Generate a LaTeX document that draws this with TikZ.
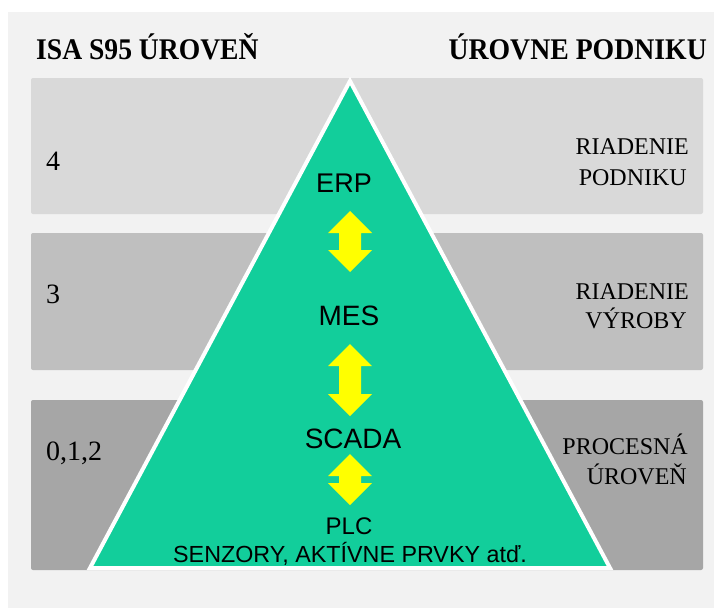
\documentclass[tikz,border=0pt]{standalone}
\usepackage{fontspec}
\setmainfont{Liberation Serif}
\newfontfamily\arialf{Liberation Sans}
\definecolor{panel}{HTML}{F2F2F2}
\definecolor{bandA}{HTML}{D9D9D9}
\definecolor{bandB}{HTML}{BFBFBF}
\definecolor{bandC}{HTML}{A6A6A6}
\definecolor{pyr}{HTML}{12CE9B}
\definecolor{arr}{HTML}{FFFF00}
\begin{document}
\begin{tikzpicture}[x=1pt,y=-1pt,
  band/.style={rounded corners=2pt},
  hdr/.style={inner sep=0pt,font=\fontsize{30}{36}\selectfont\bfseries},
  lvl/.style={inner sep=0pt,anchor=base west,font=\fontsize{28}{32}\selectfont},
  lbl/.style={inner sep=0pt,anchor=base east,font=\fontsize{24}{30}\selectfont},
  sys/.style={inner sep=0pt,anchor=base,font=\arialf\fontsize{28}{32}\selectfont},
  sub/.style={inner sep=0pt,anchor=base,font=\arialf\fontsize{24}{28}\selectfont},
  pics/dbl/.style={code={
    \fill[arr] (0,0) -- (22,22) -- (11,22) -- (11,{#1-22}) -- (22,{#1-22})
      -- (0,#1) -- (-22,{#1-22}) -- (-11,{#1-22}) -- (-11,22) -- (-22,22) -- cycle;
  }}]
\useasboundingbox (0,0) rectangle (714,608);
\fill[white] (0,0) rectangle (714,608);
\fill[panel] (8,12) rectangle (714,608);
% bands
\fill[band,bandA] (31,78) rectangle (703,214);
\fill[band,bandB] (31,233) rectangle (703,370);
\fill[band,bandC] (31,400) rectangle (703,570);
% headers
\node[hdr,anchor=base west] (h1) at (36,59) {\scalebox{0.92}[1]{ISA S95 ÚROVEŇ}};
\node[hdr,anchor=base east] (h2) at (707,59) {\scalebox{0.925}[1]{ÚROVNE PODNIKU}};
% level numbers
\node[lvl] (l4) at (46,170) {4};
\node[lvl] (l3) at (46,303) {3};
\node[lvl] (l012) at (46,460) {0,1,2};
% right labels
\node[lbl] (r1a) at (689,154) {RIADENIE};
\node[lbl] (r1b) at (687,185) {PODNIKU};
\node[lbl] (r2a) at (689,299) {RIADENIE};
\node[lbl] (r2b) at (687,328) {VÝROBY};
\node[lbl] (r3a) at (688,454) {PROCESNÁ};
\node[lbl] (r3b) at (687,484) {ÚROVEŇ};
% pyramid
\draw[white,line width=4pt,fill=pyr] (350,81) -- (610,568) -- (90,568) -- cycle;
% systems
\node[sys,font=\arialf\fontsize{27}{32}\selectfont] (erp) at (344,192) {ERP};
\node[sys] (mes) at (349,325) {MES};
\node[sys] (scada) at (353,448) {SCADA};
\node[sub] (plc) at (349,534) {PLC};
\node[sub,font=\arialf\fontsize{23.3}{28}\selectfont] (sen) at (350,562) {SENZORY, AKTÍVNE PRVKY atď.};
% arrows
\pic at (350,211) {dbl=61};
\pic at (350,344) {dbl=72};
\pic at (350,454) {dbl=51};
\end{tikzpicture}
\end{document}
